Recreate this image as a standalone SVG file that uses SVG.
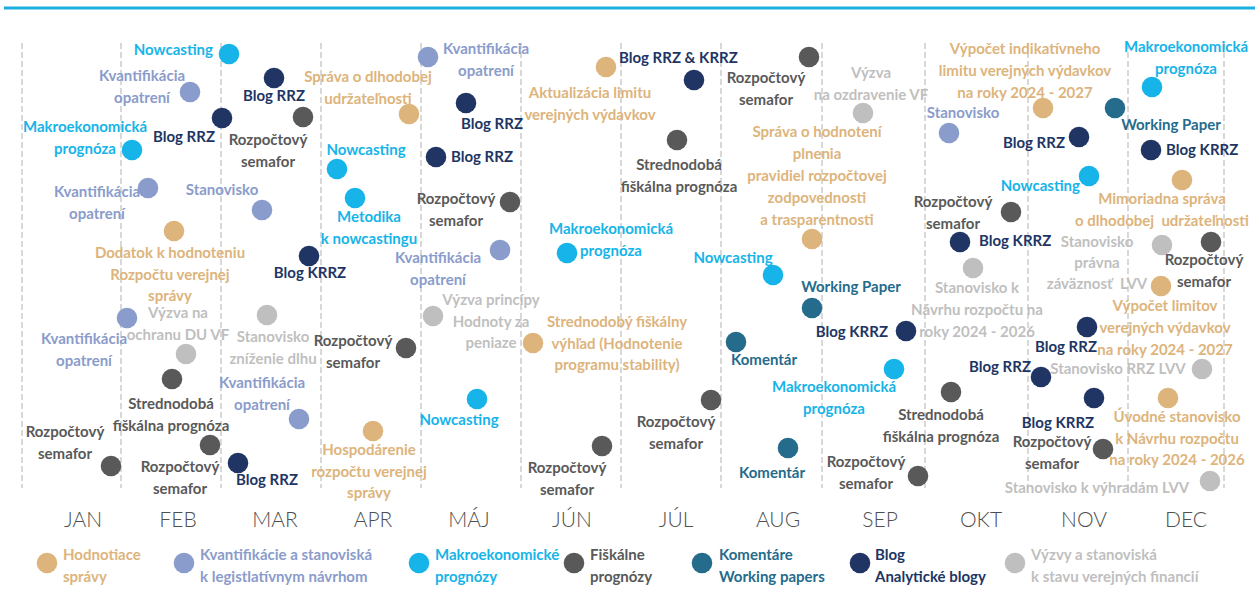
<svg xmlns="http://www.w3.org/2000/svg" width="1255" height="592" viewBox="0 0 1255 592">
<style>
  text { font-family: Lato, "Open Sans", "Liberation Sans", sans-serif; font-weight: 700; font-size: 15px; }
  .c { text-anchor: middle; }
  .e { text-anchor: end; }
  .month { font-weight: 300; font-size: 21px; fill: #4F4F4F; text-anchor: middle; }
  .tan { fill: #DDB47C; }
  .per { fill: #8A9CCB; }
  .cya { fill: #16B4E8; }
  .dgr { fill: #595959; }
  .tea { fill: #256B8C; }
  .nav { fill: #213564; }
  .lgr { fill: #BFBFBF; }
  .grid line { stroke: #C4C4C4; stroke-width: 1.3; stroke-dasharray: 6 3; }
</style>
<rect width="1255" height="592" fill="#FFFFFF"/>
<line x1="4" y1="8" x2="1255" y2="8" stroke="#1AAFE0" stroke-width="3"/>

<!-- month separators -->
<g id="connectors" class="grid">
  <line x1="22" y1="43" x2="22" y2="488"/>
  <line x1="121" y1="43" x2="121" y2="488"/>
  <line x1="221" y1="43" x2="221" y2="488"/>
  <line x1="321" y1="43" x2="321" y2="488"/>
  <line x1="421" y1="43" x2="421" y2="488"/>
  <line x1="521" y1="43" x2="521" y2="488"/>
  <line x1="621" y1="43" x2="621" y2="488"/>
  <line x1="721" y1="43" x2="721" y2="488"/>
  <line x1="822" y1="43" x2="822" y2="488"/>
  <line x1="925" y1="43" x2="925" y2="488"/>
  <line x1="1028" y1="43" x2="1028" y2="488"/>
  <line x1="1128" y1="43" x2="1128" y2="488"/>
  <line x1="1224" y1="43" x2="1224" y2="488"/>
</g>

<!-- month axis -->
<g id="months">
  <text class="month" x="83" y="527">JAN</text>
  <text class="month" x="178" y="527">FEB</text>
  <text class="month" x="275" y="527">MAR</text>
  <text class="month" x="373" y="527">APR</text>
  <text class="month" x="469" y="527">MÁJ</text>
  <text class="month" x="572" y="527">JÚN</text>
  <text class="month" x="676" y="527">JÚL</text>
  <text class="month" x="778" y="527">AUG</text>
  <text class="month" x="880" y="527">SEP</text>
  <text class="month" x="981" y="527">OKT</text>
  <text class="month" x="1084" y="527">NOV</text>
  <text class="month" x="1186" y="527">DEC</text>
</g>

<!-- JAN / FEB -->
<g id="n01"><circle class="cya" cx="229" cy="54" r="10.3"/><text class="cya e" x="213" y="55">Nowcasting</text></g>
<g id="n02"><circle class="per" cx="190" cy="92" r="10.3"/><text class="per c" x="142" y="81">Kvantifikácia<tspan x="142" dy="21.5">opatrení</tspan></text></g>
<g id="n03"><circle class="nav" cx="274" cy="78" r="10.3"/><text class="nav c" x="274" y="101">Blog RRZ</text></g>
<g id="n04"><circle class="nav" cx="222" cy="118" r="10.3"/><text class="nav e" x="215" y="142">Blog RRZ</text></g>
<g id="n05"><circle class="dgr" cx="303" cy="117" r="10.3"/><text class="dgr c" x="268" y="145">Rozpočtový<tspan x="268" dy="21.5">semafor</tspan></text></g>
<g id="n06"><circle class="cya" cx="132" cy="150" r="10.3"/><text class="cya c" x="85" y="132">Makroekonomická<tspan x="85" dy="21.5">prognóza</tspan></text></g>
<g id="n07"><circle class="per" cx="148" cy="188" r="10.3"/><text class="per c" x="97" y="197">Kvantifikácia<tspan x="97" dy="21.5">opatrení</tspan></text></g>
<g id="n08"><circle class="per" cx="262" cy="210" r="10.3"/><text class="per c" x="222" y="195">Stanovisko</text></g>
<g id="n09"><circle class="tan" cx="174" cy="231" r="10.3"/><text class="tan c" x="170" y="258">Dodatok k hodnoteniu<tspan x="170" dy="21.5">Rozpočtu verejnej</tspan><tspan x="170" dy="21.5">správy</tspan></text></g>
<g id="n10"><circle class="nav" cx="309" cy="256" r="10.3"/><text class="nav c" x="310" y="278">Blog KRRZ</text></g>
<g id="n11"><circle class="per" cx="127" cy="318" r="10.3"/><text class="per c" x="84" y="344">Kvantifikácia<tspan x="84" dy="21.5">opatrení</tspan></text></g>
<g id="n12"><circle class="lgr" cx="186" cy="354" r="10.3"/><text class="lgr c" x="178" y="318">Výzva na<tspan x="178" dy="21.5">ochranu DU VF</tspan></text></g>
<g id="n13"><circle class="lgr" cx="267" cy="315" r="10.3"/><text class="lgr c" x="273" y="342">Stanovisko<tspan x="273" dy="21.5">zníženie dlhu</tspan></text></g>
<g id="n14"><circle class="dgr" cx="172" cy="379" r="10.3"/><text class="dgr c" x="171" y="409">Strednodobá<tspan x="171" dy="21.5">fiškálna prognóza</tspan></text></g>
<g id="n15"><circle class="per" cx="299" cy="419" r="10.3"/><text class="per c" x="262" y="388">Kvantifikácia<tspan x="262" dy="21.5">opatrení</tspan></text></g>
<g id="n16"><circle class="dgr" cx="111" cy="466" r="10.3"/><text class="dgr c" x="65" y="437">Rozpočtový<tspan x="65" dy="21.5">semafor</tspan></text></g>
<g id="n17"><circle class="dgr" cx="210" cy="445" r="10.3"/><text class="dgr c" x="180" y="472">Rozpočtový<tspan x="180" dy="21.5">semafor</tspan></text></g>
<g id="n18"><circle class="nav" cx="238" cy="463" r="10.3"/><text class="nav c" x="267" y="485">Blog RRZ</text></g>

<!-- MAR / APR / MÁJ -->
<g id="n19"><circle class="per" cx="428" cy="57" r="10.3"/><text class="per c" x="486" y="54">Kvantifikácia<tspan x="486" dy="21.5">opatrení</tspan></text></g>
<g id="n20"><circle class="tan" cx="409" cy="114" r="10.3"/><text class="tan c" x="368" y="82">Správa o dlhodobej<tspan x="368" dy="21.5">udržateľnosti</tspan></text></g>
<g id="n21"><circle class="nav" cx="466" cy="103" r="10.3"/><text class="nav c" x="492" y="129">Blog RRZ</text></g>
<g id="n22"><circle class="nav" cx="436" cy="157" r="10.3"/><text class="nav" x="451" y="162">Blog RRZ</text></g>
<g id="n23"><circle class="cya" cx="337" cy="169" r="10.3"/><text class="cya c" x="366" y="155">Nowcasting</text></g>
<g id="n24"><circle class="cya" cx="355" cy="198" r="10.3"/><text class="cya c" x="369" y="222">Metodika<tspan x="369" dy="21.5">k nowcastingu</tspan></text></g>
<g id="n25"><circle class="dgr" cx="510" cy="202" r="10.3"/><text class="dgr c" x="456" y="204">Rozpočtový<tspan x="456" dy="21.5">semafor</tspan></text></g>
<g id="n26"><circle class="per" cx="500" cy="250" r="10.3"/><text class="per c" x="438" y="263">Kvantifikácia<tspan x="438" dy="21.5">opatrení</tspan></text></g>
<g id="n27"><circle class="lgr" cx="433" cy="316" r="10.3"/><text class="lgr c" x="491" y="305">Výzva princípy<tspan x="491" dy="21.5">Hodnoty za</tspan><tspan x="491" dy="21.5">peniaze</tspan></text></g>
<g id="n28"><circle class="dgr" cx="406" cy="348" r="10.3"/><text class="dgr c" x="353" y="346">Rozpočtový<tspan x="353" dy="21.5">semafor</tspan></text></g>
<g id="n29"><circle class="cya" cx="477" cy="399" r="10.3"/><text class="cya c" x="459" y="425">Nowcasting</text></g>
<g id="n30"><circle class="tan" cx="373" cy="431" r="10.3"/><text class="tan c" x="369" y="455">Hospodárenie<tspan x="369" dy="21.5">rozpočtu verejnej</tspan><tspan x="369" dy="21.5">správy</tspan></text></g>

<!-- JÚN / JÚL -->
<g id="n31"><circle class="tan" cx="606" cy="67" r="10.3"/><text class="tan c" x="590" y="98">Aktualizácia limitu<tspan x="590" dy="21.5">verejných výdavkov</tspan></text></g>
<g id="n32"><circle class="nav" cx="694" cy="80" r="10.3"/><text class="nav" x="619" y="63">Blog RRZ &amp; KRRZ</text></g>
<g id="n33"><circle class="dgr" cx="677" cy="140" r="10.3"/><text class="dgr c" x="679" y="170">Strednodobá<tspan x="679" dy="21.5">fiškálna prognóza</tspan></text></g>
<g id="n34"><circle class="cya" cx="567" cy="253" r="10.3"/><text class="cya c" x="611" y="234">Makroekonomická<tspan x="611" dy="21.5">prognóza</tspan></text></g>
<g id="n35"><circle class="tan" cx="533" cy="343" r="10.3"/><text class="tan c" x="617" y="327">Strednodobý fiškálny<tspan x="617" dy="21.5">výhľad (Hodnotenie</tspan><tspan x="617" dy="21.5">programu stability)</tspan></text></g>
<g id="n36"><circle class="dgr" cx="602" cy="446" r="10.3"/><text class="dgr c" x="567" y="473">Rozpočtový<tspan x="567" dy="21.5">semafor</tspan></text></g>
<g id="n37"><circle class="dgr" cx="711" cy="400" r="10.3"/><text class="dgr c" x="676" y="427">Rozpočtový<tspan x="676" dy="21.5">semafor</tspan></text></g>
<g id="n38"><circle class="tea" cx="736" cy="342" r="10.3"/><text class="tea c" x="764" y="365">Komentár</text></g>

<!-- AUG / SEP -->
<g id="n39"><circle class="dgr" cx="809" cy="57" r="10.3"/><text class="dgr c" x="766" y="83">Rozpočtový<tspan x="766" dy="21.5">semafor</tspan></text></g>
<g id="n40"><circle class="lgr" cx="863" cy="113" r="10.3"/><text class="lgr c" x="871" y="78">Výzva<tspan x="871" dy="21.5">na ozdravenie VF</tspan></text></g>
<g id="n41"><circle class="tan" cx="812" cy="239" r="10.3"/><text class="tan c" x="817" y="137">Správa o hodnotení<tspan x="817" dy="22">plnenia</tspan><tspan x="817" dy="22">pravidiel rozpočtovej</tspan><tspan x="817" dy="22">zodpovednosti</tspan><tspan x="817" dy="22">a trasparentnosti</tspan></text></g>
<g id="n42"><circle class="cya" cx="773" cy="275" r="10.3"/><text class="cya c" x="733" y="263">Nowcasting</text></g>
<g id="n43"><circle class="tea" cx="812" cy="308" r="10.3"/><text class="tea c" x="851" y="292">Working Paper</text></g>
<g id="n44"><circle class="nav" cx="906" cy="331" r="10.3"/><text class="nav e" x="888" y="337">Blog KRRZ</text></g>
<g id="n45"><circle class="cya" cx="894" cy="369" r="10.3"/><text class="cya c" x="834" y="392">Makroekonomická<tspan x="834" dy="21.5">prognóza</tspan></text></g>
<g id="n46"><circle class="tea" cx="788" cy="448" r="10.3"/><text class="tea c" x="772" y="478">Komentár</text></g>
<g id="n47"><circle class="dgr" cx="918" cy="476" r="10.3"/><text class="dgr c" x="866" y="467">Rozpočtový<tspan x="866" dy="21.5">semafor</tspan></text></g>
<g id="n48"><circle class="dgr" cx="951" cy="392" r="10.3"/><text class="dgr c" x="941" y="420">Strednodobá<tspan x="941" dy="21.5">fiškálna prognóza</tspan></text></g>

<!-- OKT / NOV / DEC -->
<g id="n49"><circle class="tan" cx="1043" cy="108" r="10.3"/><text class="tan c" x="1025" y="54">Výpočet indikatívneho<tspan x="1025" dy="22">limitu verejných výdavkov</tspan><tspan x="1025" dy="22">na roky 2024 - 2027</tspan></text></g>
<g id="n50"><circle class="cya" cx="1152" cy="87" r="10.3"/><text class="cya c" x="1186" y="52">Makroekonomická<tspan x="1186" dy="21.5">prognóza</tspan></text></g>
<g id="n51"><circle class="tea" cx="1115" cy="108" r="10.3"/><text class="tea c" x="1171" y="130">Working Paper</text></g>
<g id="n52"><circle class="per" cx="949" cy="133" r="10.3"/><text class="per c" x="963" y="118">Stanovisko</text></g>
<g id="n53"><circle class="nav" cx="1079" cy="137" r="10.3"/><text class="nav e" x="1065" y="148">Blog RRZ</text></g>
<g id="n54"><circle class="nav" cx="1151" cy="150" r="10.3"/><text class="nav" x="1166" y="155">Blog KRRZ</text></g>
<g id="n55"><circle class="cya" cx="1089" cy="176" r="10.3"/><text class="cya e" x="1080" y="191">Nowcasting</text></g>
<g id="n56"><circle class="tan" cx="1182" cy="180" r="10.3"/><text class="tan c" x="1162" y="204">Mimoriadna správa<tspan x="1162" dy="21.5">o dlhodobej&#160; udržateľnosti</tspan></text></g>
<g id="n57"><circle class="dgr" cx="1011" cy="212" r="10.3"/><text class="dgr c" x="953" y="207">Rozpočtový<tspan x="953" dy="21.5">semafor</tspan></text></g>
<g id="n58"><circle class="nav" cx="960" cy="242" r="10.3"/><text class="nav" x="979" y="246">Blog KRRZ</text></g>
<g id="n59"><circle class="lgr" cx="1162" cy="245" r="10.3"/><text class="lgr c" x="1097" y="247">Stanovisko<tspan x="1097" dy="21">právna</tspan><tspan x="1097" dy="21">záväznosť&#160; LVV</tspan></text></g>
<g id="n60"><circle class="dgr" cx="1211" cy="242" r="10.3"/><text class="dgr c" x="1204" y="265">Rozpočtový<tspan x="1204" dy="21.5">semafor</tspan></text></g>
<g id="n61"><circle class="tan" cx="1161" cy="286" r="10.3"/><text class="tan c" x="1165" y="311">Výpočet limitov<tspan x="1165" dy="22">verejných výdavkov</tspan><tspan x="1165" dy="22">na roky 2024 - 2027</tspan></text></g>
<g id="n62"><circle class="lgr" cx="973" cy="268" r="10.3"/><text class="lgr c" x="977" y="293">Stanovisko k<tspan x="977" dy="22">Návrhu rozpočtu na</tspan><tspan x="977" dy="22">roky 2024 - 2026</tspan></text></g>
<g id="n63"><circle class="nav" cx="1087" cy="327" r="10.3"/><text class="nav c" x="1066" y="352">Blog RRZ</text></g>
<g id="n64"><circle class="nav" cx="1041" cy="377" r="10.3"/><text class="nav e" x="1031" y="372">Blog RRZ</text></g>
<g id="n65"><circle class="lgr" cx="1202" cy="369" r="10.3"/><text class="lgr c" x="1118" y="374">Stanovisko RRZ LVV</text></g>
<g id="n66"><circle class="nav" cx="1094" cy="398" r="10.3"/><text class="nav c" x="1058" y="428">Blog KRRZ</text></g>
<g id="n67"><circle class="tan" cx="1168" cy="398" r="10.3"/><text class="tan c" x="1177" y="422">Úvodné stanovisko<tspan x="1177" dy="21.5">k Návrhu rozpočtu</tspan><tspan x="1177" dy="21.5">na roky 2024 - 2026</tspan></text></g>
<g id="n68"><circle class="dgr" cx="1103" cy="449" r="10.3"/><text class="dgr c" x="1052" y="447">Rozpočtový<tspan x="1052" dy="21.5">semafor</tspan></text></g>
<g id="n69"><circle class="lgr" cx="1210" cy="481" r="10.3"/><text class="lgr c" x="1097" y="493">Stanovisko k výhradám LVV</text></g>

<!-- legend -->
<g id="legend">
  <g id="lg-tan"><circle class="tan" cx="47" cy="563" r="10.3"/><text class="tan" x="63" y="560">Hodnotiace<tspan x="63" dy="22">správy</tspan></text></g>
  <g id="lg-per"><circle class="per" cx="184" cy="563" r="10.3"/><text class="per" x="200" y="560">Kvantifikácie a stanoviská<tspan x="200" dy="22">k legistlatívnym návrhom</tspan></text></g>
  <g id="lg-cya"><circle class="cya" cx="419" cy="563" r="10.3"/><text class="cya" x="435" y="560">Makroekonomické<tspan x="435" dy="22">prognózy</tspan></text></g>
  <g id="lg-dgr"><circle class="dgr" cx="574" cy="563" r="10.3"/><text class="dgr" x="590" y="560">Fiškálne<tspan x="590" dy="22">prognózy</tspan></text></g>
  <g id="lg-tea"><circle class="tea" cx="702" cy="563" r="10.3"/><text class="tea" x="719" y="560">Komentáre<tspan x="719" dy="22">Working papers</tspan></text></g>
  <g id="lg-nav"><circle class="nav" cx="860" cy="563" r="10.3"/><text class="nav" x="875" y="560">Blog<tspan x="875" dy="22">Analytické blogy</tspan></text></g>
  <g id="lg-lgr"><circle class="lgr" cx="1015" cy="563" r="10.3"/><text class="lgr" x="1031" y="560">Výzvy a stanoviská<tspan x="1031" dy="22">k stavu verejných financií</tspan></text></g>
</g>
</svg>
